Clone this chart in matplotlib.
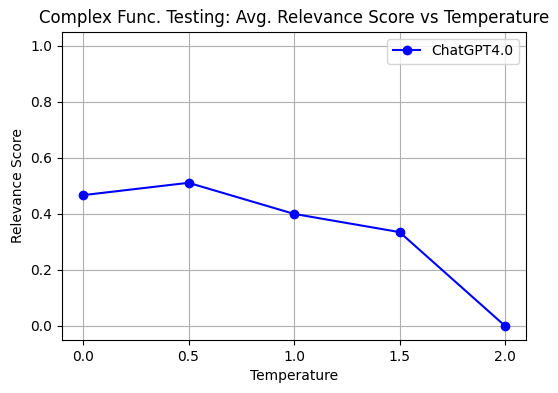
import matplotlib
matplotlib.use("Agg")
import matplotlib.pyplot as plt

temperatures = [0.0, 0.5, 1.0, 1.5, 2.0]
relevance_scores = [0.467, 0.511, 0.400, 0.335, 0.0]
series_label = "ChatGPT4.0"

fig = plt.figure(figsize=(5.58, 3.93), dpi=100)
ax = fig.add_axes([0.111, 0.135, 0.832, 0.784])
ax.plot(temperatures, relevance_scores, marker="o", color="b", label=series_label)

ax.set_ylim(-0.05, 1.05)
ax.set_xticks(temperatures)
ax.set_xlabel("Temperature")
ax.set_ylabel("Relevance Score")
ax.set_title("Complex Func. Testing: Avg. Relevance Score vs Temperature")
ax.grid(True)
ax.legend()

fig.savefig("out.png", dpi=100)
plt.close(fig)
